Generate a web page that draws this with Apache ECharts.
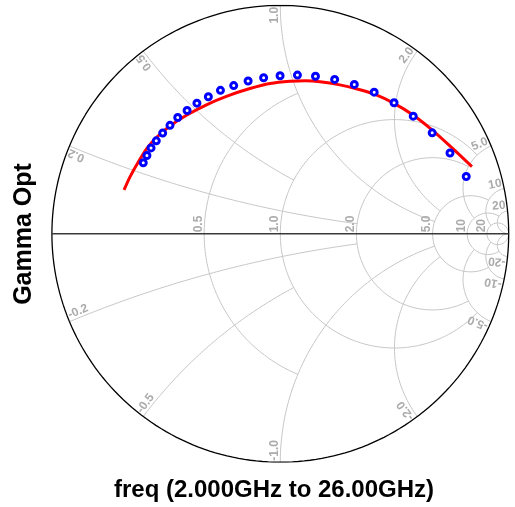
<!DOCTYPE html>
<html><head><meta charset="utf-8">
<script src="https://cdn.jsdelivr.net/npm/echarts@6/dist/echarts.min.js"></script>
<style>html,body{margin:0;padding:0;background:#fff}#c{width:515px;height:507px}</style>
</head><body><div id="c"></div>
<script>
// ---- data ----
const freqGHz = [2,3,4,5,6,7,8,9,10,11,12,13,14,15,16,17,18,19,20,21,22,23,24,25,26];
const gammaOptRe = [-0.600,-0.584,-0.566,-0.543,-0.515,-0.483,-0.449,-0.408,-0.365,-0.315,-0.262,-0.204,-0.141,-0.073,-0.001,0.075,0.154,0.238,0.324,0.411,0.498,0.582,0.665,0.743,0.814];
const gammaOptIm = [0.311,0.343,0.376,0.407,0.441,0.475,0.509,0.540,0.572,0.600,0.628,0.649,0.669,0.683,0.692,0.695,0.690,0.676,0.654,0.620,0.574,0.515,0.442,0.354,0.251];
const fitRe = [-0.684,-0.658,-0.623,-0.584,-0.540,-0.483,-0.409,-0.321,-0.233,-0.133,-0.045,0.043,0.108,0.174,0.261,0.349,0.415,0.498,0.581,0.664,0.752,0.839];
const fitIm = [0.192,0.249,0.312,0.374,0.424,0.472,0.520,0.566,0.603,0.636,0.658,0.668,0.670,0.666,0.652,0.631,0.610,0.571,0.520,0.455,0.376,0.294];
const rValues = [0.5,1,2,5,10,20];        // resistance circles (axis tick labels)
const rMaxX   = [1,5,5,10,20,Infinity];   // each circle drawn while |x| <= this
const xValues = [0.2,0.5,1,2,5,10,20];    // reactance arcs (rim tick labels)
const xMaxR   = [2,1,5,5,10,20,Infinity]; // each arc drawn while r <= this
const xTitle = 'freq (2.000GHz to 26.00GHz)';
const yTitle = 'Gamma Opt';

// ---- geometry helpers ----
function gam(r,x){const d=(r+1)*(r+1)+x*x;return [(r*r+x*x-1)/d,2*x/d];}
function rCircle(r,xm){
  const c=r/(1+r),rho=1/(1+r);
  let t0=0.0001;
  if(isFinite(xm)){const p=gam(r,xm);t0=Math.atan2(p[1],p[0]-c);}
  const pts=[],n=240;
  for(let i=0;i<=n;i++){const t=t0+(2*Math.PI-2*t0)*i/n;pts.push([c+rho*Math.cos(t),rho*Math.sin(t)]);}
  return pts;
}
function xArc(x,rm){
  const ax=Math.abs(x),cy=1/ax,rho=1/ax;
  const a=gam(0,ax),b=isFinite(rm)?gam(rm,ax):[1,0];
  const t0=Math.atan2(a[1]-cy,a[0]-1);
  let t1=Math.atan2(b[1]-cy,b[0]-1);
  while(t1<t0)t1+=2*Math.PI;
  const pts=[],n=200,s=x<0?-1:1;
  for(let i=0;i<=n;i++){const t=t0+(t1-t0)*i/n;pts.push([1+rho*Math.cos(t),s*(cy+rho*Math.sin(t))]);}
  return pts;
}
function fmt(v){const a=Math.abs(v);return (v<0?'-':'')+(a<10?a.toFixed(1):String(a));}

const gridColor='#c6c6c6';
const series=[];
function addLine(pts,color,width,z){
  series.push({type:'line',data:pts,showSymbol:false,silent:true,z:z||1,
    lineStyle:{color:color,width:width},animation:false});
}
rValues.forEach((r,i)=>addLine(rCircle(r,rMaxX[i]),gridColor,1));
xValues.forEach((x,i)=>{addLine(xArc(x,xMaxR[i]),gridColor,1);addLine(xArc(-x,xMaxR[i]),gridColor,1);});
// rim (r = 0) and real axis
addLine(rCircle(0,Infinity),'#000',1.3,2);
addLine([[-1,0],[1,0]],'#3a3a3a',1.6,2);

// labels
const labels=[];
rValues.forEach(r=>{labels.push({p:[(r-1)/(r+1),0],text:fmt(r),kind:'axis'});});
xValues.forEach(x=>{
  [x,-x].forEach(v=>{const g=gam(0,v);labels.push({p:g,text:fmt(v),kind:v>0?'up':'down',phi:Math.atan2(g[1],g[0])});});
});
series.push({type:'custom',silent:true,z:3,animation:false,
  data:labels.map(l=>l.p),
  renderItem:function(params,api){
    const l=labels[params.dataIndex];
    const pt=api.coord([api.value(0),api.value(1)]);
    let x=pt[0],y=pt[1],rot,align;
    if(l.kind==='axis'){rot=Math.PI/2;align='left';y-=1.5;x+=0.5;}
    else if(l.kind==='up'){rot=l.phi;align='right';x-=1.5*Math.cos(l.phi);y+=1.5*Math.sin(l.phi);}
    else {rot=l.phi+Math.PI;align='left';x-=1.5*Math.cos(l.phi);y+=1.5*Math.sin(l.phi);}
    return {type:'text',x:x,y:y,rotation:rot,
      style:{text:l.text,align:align,verticalAlign:'bottom',fill:'#ababab',font:'bold 12px Arial, "Liberation Sans", sans-serif'}};
  }});

// fitted curve and data markers
series.push({type:'line',data:fitRe.map((v,i)=>[v,fitIm[i]]),smooth:0.3,showSymbol:false,z:4,
  lineStyle:{color:'#ff0000',width:3},animation:false});
series.push({type:'scatter',data:gammaOptRe.map((v,i)=>[v,gammaOptIm[i]]),symbol:'circle',symbolSize:6,z:5,
  itemStyle:{color:'#ffffff',borderColor:'#0000ff',borderWidth:3,opacity:1},animation:false});

const chart=echarts.init(document.getElementById('c'),null,{renderer:'canvas'});
chart.setOption({
  animation:false,
  grid:{left:51.9,top:5.4,width:456.8,height:456.8},
  xAxis:{type:'value',min:-1,max:1,show:false},
  yAxis:{type:'value',min:-1,max:1,show:false},
  graphic:[
    {type:'text',x:274,y:502,style:{text:xTitle,align:'center',verticalAlign:'bottom',fill:'#000',font:'bold 24px Arial, "Liberation Sans", sans-serif'}},
    {type:'text',x:24,y:234,rotation:Math.PI/2,style:{text:yTitle,align:'center',verticalAlign:'middle',fill:'#000',font:'bold 25px Arial, "Liberation Sans", sans-serif'}}
  ],
  series:series
});
</script></body></html>
